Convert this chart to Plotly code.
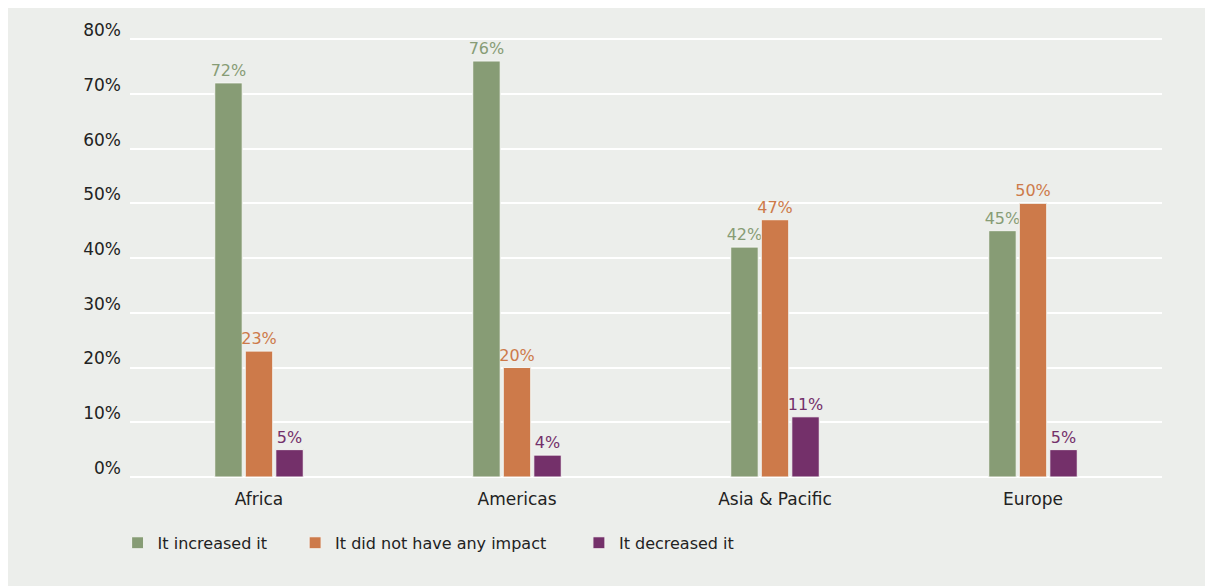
import plotly.graph_objects as go

categories = ["Africa", "Americas", "Asia & Pacific", "Europe"]
series_names = ["It increased it", "It did not have any impact", "It decreased it"]
increased = [72, 76, 42, 45]
no_impact = [23, 20, 47, 50]
decreased = [5, 4, 11, 5]
y_tick_values = [0, 10, 20, 30, 40, 50, 60, 70, 80]
y_tick_labels = ["0%", "10%", "20%", "30%", "40%", "50%", "60%", "70%", "80%"]
colors = ["#879C75", "#CD7A4A", "#74306A"]
legend_ids = ["legend", "legend2", "legend3"]
legend_x = [-0.012, 0.160, 0.435]

fig = go.Figure()
for name, vals, col, lid in zip(series_names, [increased, no_impact, decreased], colors, legend_ids):
    fig.add_trace(go.Bar(
        x=categories, y=vals, name=name, legend=lid,
        marker=dict(color=col, line=dict(color="#F4F5F2", width=1)),
        text=[f"{v}%" for v in vals], textposition="outside",
        textfont=dict(color=col, size=16, family="DejaVu Sans"),
        constraintext="none", cliponaxis=False,
    ))

legend_common = dict(orientation="h", xanchor="left", y=-0.15, yanchor="middle",
                     font=dict(size=16, color="#222222", family="DejaVu Sans"),
                     bgcolor="rgba(0,0,0,0)")

fig.update_layout(
    width=1213, height=586,
    paper_bgcolor="#ECEEEB", plot_bgcolor="#ECEEEB",
    margin=dict(l=122, r=59, t=27, b=117),
    barmode="group", bargap=0.645, bargroupgap=0.1,
    font=dict(family="DejaVu Sans", size=16, color="#222222"),
    showlegend=True,
    legend=dict(x=legend_x[0], **legend_common),
    legend2=dict(x=legend_x[1], **legend_common),
    legend3=dict(x=legend_x[2], **legend_common),
    xaxis=dict(showgrid=False, showline=False, ticks="", tickfont=dict(size=17),
               ticklabelstandoff=10),
    yaxis=dict(range=[0, 80.2], tickmode="array", tickvals=y_tick_values,
               ticktext=y_tick_labels, showgrid=True,
               gridcolor="#FFFFFF", gridwidth=2, zeroline=True, zerolinecolor="#FFFFFF",
               zerolinewidth=2, showline=False, ticks="", tickfont=dict(size=17, color="#222222"),
               ticklabelshift=-9, ticklabelstandoff=8),
)

fig.write_html("out.html")
